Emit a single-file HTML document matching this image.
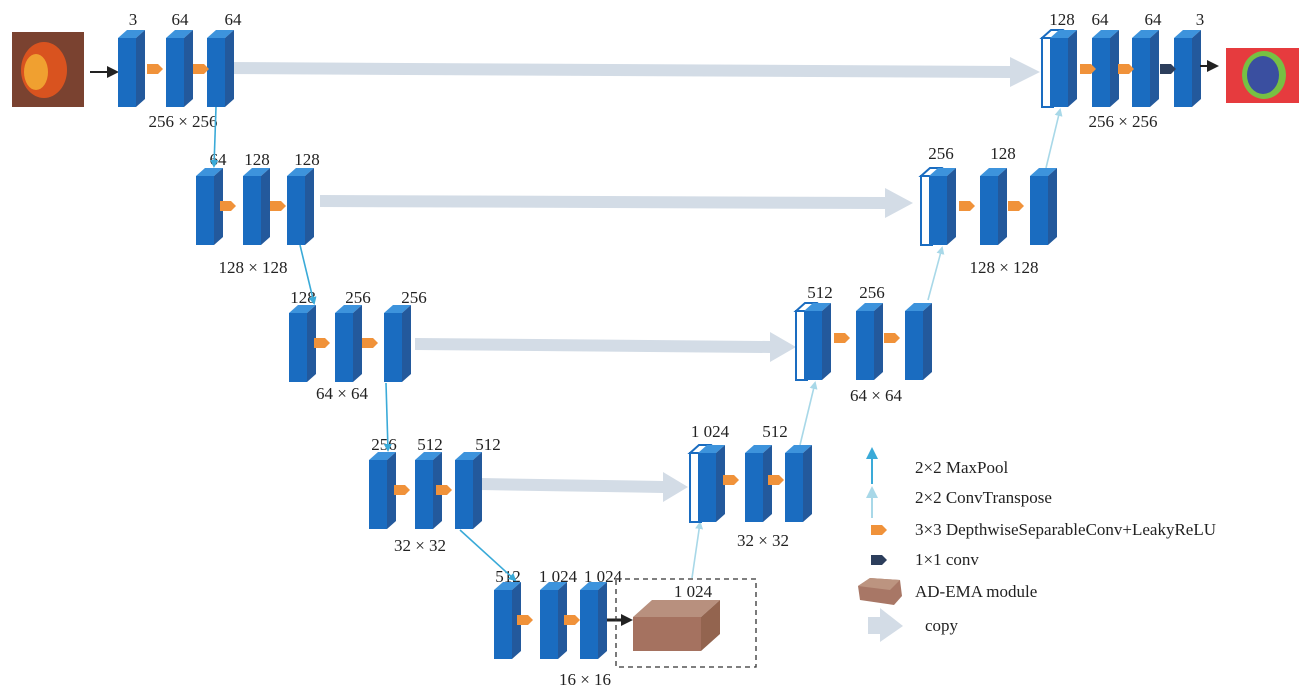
<!DOCTYPE html>
<html><head><meta charset="utf-8"><style>
html,body{margin:0;padding:0;background:#fff;width:1305px;height:693px;overflow:hidden}
text{font-family:"Liberation Serif",serif;font-size:17px;fill:#222}
</style></head><body>
<svg width="1305" height="693" viewBox="0 0 1305 693" xmlns="http://www.w3.org/2000/svg">
<defs>
<g id="b">
<polygon points="0,8 9,0 27,0 18,8" fill="#3d93dc"/>
<polygon points="18,8 27,0 27,69 18,77" fill="#23599c"/>
<rect x="0" y="8" width="18" height="69" fill="#1a6cc0"/>
</g>
<g id="w">
<polygon points="0,8 9,0 20,0 11,8" fill="#fff" stroke="#1a6cc0" stroke-width="2"/>
<rect x="0" y="8" width="11" height="69" fill="#fff" stroke="#1a6cc0" stroke-width="2"/>
</g>
<polygon id="o" points="0,-5 11,-5 16,0 11,5 0,5" fill="#f0923a"/>
<marker id="mb" markerWidth="8" markerHeight="8" refX="6" refY="4" orient="auto" markerUnits="userSpaceOnUse"><polygon points="0,0 8,4 0,8" fill="#3aaad8"/></marker>
<marker id="ml" markerWidth="8" markerHeight="8" refX="6" refY="4" orient="auto" markerUnits="userSpaceOnUse"><polygon points="0,0 8,4 0,8" fill="#a8d8e8"/></marker>
<marker id="mb2" markerWidth="12" markerHeight="12" refX="9" refY="6" orient="auto" markerUnits="userSpaceOnUse"><polygon points="0,0 12,6 0,12" fill="#3aaad8"/></marker>
<marker id="ml2" markerWidth="12" markerHeight="12" refX="9" refY="6" orient="auto" markerUnits="userSpaceOnUse"><polygon points="0,0 12,6 0,12" fill="#a8d8e8"/></marker>
<marker id="mk" markerWidth="12" markerHeight="12" refX="9" refY="6" orient="auto" markerUnits="userSpaceOnUse"><polygon points="0,0 12,6 0,12" fill="#222"/></marker>
</defs>

<g fill="#d3dce6">
<polygon points="220,62 1010,66 1010,57 1040,72 1010,87 1010,78 220,74"/>
<polygon points="320,195 885,197 885,188 913,203 885,218 885,209 320,207"/>
<polygon points="415,338 770,341 770,332 796,347 770,362 770,353 415,350"/>
<polygon points="480,478 663,481 663,472 688,487 663,502 663,493 480,490"/>
</g>

<rect x="12" y="32" width="72" height="75" fill="#7a4230"/>
<ellipse cx="44" cy="70" rx="23" ry="28" fill="#d9531f"/>
<ellipse cx="36" cy="72" rx="12" ry="18" fill="#f0a030"/>
<line x1="90" y1="72" x2="116" y2="72" stroke="#222" stroke-width="2" marker-end="url(#mk)"/>

<use href="#b" x="118" y="30"/><use href="#b" x="166" y="30"/><use href="#b" x="207" y="30"/>
<use href="#o" x="147" y="69"/><use href="#o" x="193" y="69"/>
<text x="133" y="25" text-anchor="middle">3</text><text x="180" y="25" text-anchor="middle">64</text><text x="233" y="25" text-anchor="middle">64</text>
<text x="183" y="127" text-anchor="middle">256 × 256</text>

<use href="#b" x="196" y="168"/><use href="#b" x="243" y="168"/><use href="#b" x="287" y="168"/>
<use href="#o" x="220" y="206"/><use href="#o" x="270" y="206"/>
<text x="218" y="165" text-anchor="middle">64</text><text x="257" y="165" text-anchor="middle">128</text><text x="307" y="165" text-anchor="middle">128</text>
<text x="253" y="273" text-anchor="middle">128 × 128</text>

<use href="#b" x="289" y="305"/><use href="#b" x="335" y="305"/><use href="#b" x="384" y="305"/>
<use href="#o" x="314" y="343"/><use href="#o" x="362" y="343"/>
<text x="303" y="303" text-anchor="middle">128</text><text x="358" y="303" text-anchor="middle">256</text><text x="414" y="303" text-anchor="middle">256</text>
<text x="342" y="399" text-anchor="middle">64 × 64</text>

<use href="#b" x="369" y="452"/><use href="#b" x="415" y="452"/><use href="#b" x="455" y="452"/>
<use href="#o" x="394" y="490"/><use href="#o" x="436" y="490"/>
<text x="384" y="450" text-anchor="middle">256</text><text x="430" y="450" text-anchor="middle">512</text><text x="488" y="450" text-anchor="middle">512</text>
<text x="420" y="551" text-anchor="middle">32 × 32</text>

<use href="#b" x="494" y="582"/><use href="#b" x="540" y="582"/><use href="#b" x="580" y="582"/>
<use href="#o" x="517" y="620"/><use href="#o" x="564" y="620"/>
<text x="508" y="582" text-anchor="middle">512</text><text x="558" y="582" text-anchor="middle">1 024</text><text x="603" y="582" text-anchor="middle">1 024</text>
<text x="585" y="685" text-anchor="middle">16 × 16</text>
<line x1="607" y1="620" x2="630" y2="620" stroke="#222" stroke-width="3" marker-end="url(#mk)"/>
<rect x="616" y="579" width="140" height="88" fill="none" stroke="#333" stroke-width="1.3" stroke-dasharray="5,4"/>
<polygon points="633,617 652,600 720,600 701,617" fill="#b8907e"/>
<polygon points="701,617 720,600 720,634 701,651" fill="#93644f"/>
<rect x="633" y="617" width="68" height="34" fill="#a57260"/>
<text x="693" y="597" text-anchor="middle">1 024</text>

<g stroke="#3aaad8" stroke-width="1.6" fill="none">
<line x1="216" y1="107" x2="214" y2="166" marker-end="url(#mb)"/>
<line x1="300" y1="245" x2="314" y2="303" marker-end="url(#mb)"/>
<line x1="386" y1="383" x2="388" y2="450" marker-end="url(#mb)"/>
<line x1="460" y1="530" x2="515" y2="580" marker-end="url(#mb)"/>
</g>
<g stroke="#a8d8e8" stroke-width="1.6" fill="none">
<line x1="692" y1="578" x2="700" y2="523" marker-end="url(#ml)"/>
<line x1="800" y1="445" x2="815" y2="383" marker-end="url(#ml)"/>
<line x1="928" y1="300" x2="942" y2="248" marker-end="url(#ml)"/>
<line x1="1046" y1="168" x2="1060" y2="110" marker-end="url(#ml)"/>
</g>

<use href="#w" x="690" y="445"/><use href="#b" x="698" y="445"/>
<use href="#b" x="745" y="445"/><use href="#b" x="785" y="445"/>
<use href="#o" x="723" y="480"/><use href="#o" x="768" y="480"/>
<text x="710" y="437" text-anchor="middle">1 024</text><text x="775" y="437" text-anchor="middle">512</text>
<text x="763" y="546" text-anchor="middle">32 × 32</text>

<use href="#w" x="796" y="303"/><use href="#b" x="804" y="303"/>
<use href="#b" x="856" y="303"/><use href="#b" x="905" y="303"/>
<use href="#o" x="834" y="338"/><use href="#o" x="884" y="338"/>
<text x="820" y="298" text-anchor="middle">512</text><text x="872" y="298" text-anchor="middle">256</text>
<text x="876" y="401" text-anchor="middle">64 × 64</text>

<use href="#w" x="921" y="168"/><use href="#b" x="929" y="168"/>
<use href="#b" x="980" y="168"/><use href="#b" x="1030" y="168"/>
<use href="#o" x="959" y="206"/><use href="#o" x="1008" y="206"/>
<text x="941" y="159" text-anchor="middle">256</text><text x="1003" y="159" text-anchor="middle">128</text>
<text x="1004" y="273" text-anchor="middle">128 × 128</text>

<use href="#w" x="1042" y="30"/><use href="#b" x="1050" y="30"/>
<use href="#b" x="1092" y="30"/><use href="#b" x="1132" y="30"/><use href="#b" x="1174" y="30"/>
<use href="#o" x="1080" y="69"/><use href="#o" x="1118" y="69"/>
<polygon points="1160,64 1171,64 1176,69 1171,74 1160,74" fill="#2c3e5c"/>
<line x1="1200" y1="66" x2="1216" y2="66" stroke="#222" stroke-width="2" marker-end="url(#mk)"/>
<text x="1062" y="25" text-anchor="middle">128</text><text x="1100" y="25" text-anchor="middle">64</text><text x="1153" y="25" text-anchor="middle">64</text><text x="1200" y="25" text-anchor="middle">3</text>
<text x="1123" y="127" text-anchor="middle">256 × 256</text>
<rect x="1226" y="48" width="73" height="55" fill="#e63b3e"/>
<ellipse cx="1264" cy="75" rx="22" ry="24" fill="#77c043"/>
<ellipse cx="1263" cy="75" rx="16" ry="19" fill="#3a4fa0"/>

<line x1="872" y1="484" x2="872" y2="450" stroke="#3aaad8" stroke-width="2" marker-end="url(#mb2)"/>
<text x="915" y="473">2×2 MaxPool</text>
<line x1="872" y1="518" x2="872" y2="489" stroke="#a8d8e8" stroke-width="2" marker-end="url(#ml2)"/>
<text x="915" y="503">2×2 ConvTranspose</text>
<use href="#o" x="871" y="530"/>
<text x="915" y="535">3×3  DepthwiseSeparableConv+LeakyReLU</text>
<polygon points="871,555 882,555 887,560 882,565 871,565" fill="#2c3e5c"/>
<text x="915" y="565">1×1 conv</text>
<polygon points="858,586 870,578 900,580 902,596 894,605 860,600" fill="#a87766"/>
<polygon points="858,586 870,578 900,580 890,590" fill="#bc9480"/>
<text x="915" y="597">AD-EMA module</text>
<polygon points="868,617 880,617 880,608 903,626 880,642 880,634 868,634" fill="#d3dce6"/>
<text x="925" y="631">copy</text>
</svg>
</body></html>
